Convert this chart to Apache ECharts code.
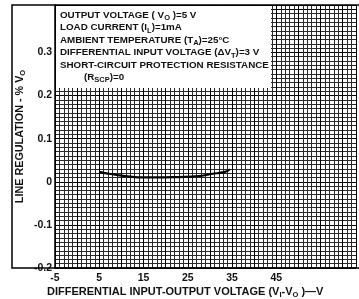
<!DOCTYPE html>
<html>
<head>
<meta charset="utf-8">
<script src="https://cdn.jsdelivr.net/npm/echarts@6/dist/echarts.min.js"></script>
<style>
  html, body { margin: 0; padding: 0; background: #fff; }
  #chart { width: 359px; height: 299px; }
</style>
</head>
<body>
<div id="chart"></div>
<script>
/* ===== data ===== */
const vDiff = [5, 7, 9.5, 12, 14.6, 18, 22.9, 27.4, 30.3, 33.4, 34.5];
const lineReg = [0.023, 0.019, 0.015, 0.012, 0.010, 0.010, 0.011, 0.013, 0.018, 0.023, 0.029];
const xTickLabels = [-5, 5, 15, 25, 35, 45];
const yTickLabels = [-0.2, -0.1, 0, 0.1, 0.2, 0.3];

const FONT = "Liberation Sans";
const chart = echarts.init(document.getElementById("chart"));

const sub = { fontSize: 7.5, fontFamily: FONT, fontWeight: "bold", padding: [6, 0, 0, 0], fill: "#111" };
const txt = (text, y, x) => ({
  type: "text",
  left: x || 60,
  top: y,
  z: 20,
  style: {
    text: text,
    font: "bold 9.8px " + FONT,
    fill: "#111",
    rich: { s: sub },
  },
});

chart.setOption({
  animation: false,
  grid: { left: 55, right: 0, top: 5, bottom: 31 },
  xAxis: {
    type: "value",
    min: -5,
    max: 63,
    interval: 5,
    axisLine: { show: true, onZero: false, lineStyle: { color: "#000", width: 1.5 } },
    axisTick: { show: false },
    axisLabel: {
      margin: 5,
      color: "#111",
      fontFamily: FONT,
      fontWeight: "bold",
      fontSize: 10.5,
      formatter: (v) => (xTickLabels.includes(v) ? String(v) : ""),
    },
    splitLine: { show: true, lineStyle: { color: "#000", width: 1 } },
    minorTick: { show: false, splitNumber: 5 },
    minorSplitLine: { show: true, lineStyle: { color: "#2a2a2a", width: 1 } },
  },
  yAxis: {
    type: "value",
    min: -0.2,
    max: 0.41,
    interval: 0.1,
    axisLine: { show: true, onZero: false, lineStyle: { color: "#000", width: 1.5 } },
    axisTick: { show: false },
    axisLabel: {
      margin: 3,
      color: "#111",
      fontFamily: FONT,
      fontWeight: "bold",
      fontSize: 10.5,
      formatter: (v) => {
        const r = Math.round(v * 10) / 10;
        return yTickLabels.includes(r) ? String(r) : "";
      },
    },
    splitLine: { show: true, lineStyle: { color: "#000", width: 1 } },
    minorTick: { show: false, splitNumber: 10 },
    minorSplitLine: { show: true, lineStyle: { color: "#2a2a2a", width: 1 } },
    name: "LINE REGULATION - % V{s|O}",
    nameLocation: "middle",
    nameGap: 28,
    nameMoveOverlap: false,
    nameRotate: 90,
    nameTextStyle: {
      color: "#111",
      fontFamily: FONT,
      fontWeight: "bold",
      fontSize: 10.8,
      rich: { s: sub },
    },
  },
  series: [
    {
      type: "line",
      data: vDiff.map((x, i) => [x, lineReg[i]]),
      smooth: true,
      showSymbol: false,
      lineStyle: { color: "#000", width: 2.2 },
      z: 10,
    },
  ],
  graphic: [
    /* outer frame */
    {
      type: "rect",
      shape: { x: 12, y: 5, width: 360, height: 263 },
      style: { fill: "none", stroke: "#000", lineWidth: 1.5 },
      z: 15,
    },
    /* white box behind the conditions */
    {
      type: "rect",
      shape: { x: 56, y: 6, width: 215, height: 82 },
      style: { fill: "#fff" },
      z: 12,
    },
    txt("OUTPUT VOLTAGE ( V{s|O} )=5 V", 10),
    txt("LOAD CURRENT (I{s|L})=1mA", 22.5),
    txt("AMBIENT TEMPERATURE (T{s|A})=25°C", 35),
    txt("DIFFERENTIAL INPUT VOLTAGE (ΔV{s|T})=3 V", 47.5),
    txt("SHORT-CIRCUIT PROTECTION RESISTANCE", 60),
    txt("(R{s|SCP})=0", 72, 84),
    {
      type: "text",
      left: 47,
      top: 286,
      style: {
        text: "DIFFERENTIAL INPUT-OUTPUT VOLTAGE (V{s|I}-V{s|O} )—V",
        font: "bold 11px " + FONT,
        fill: "#111",
        rich: { s: sub },
      },
    },
  ],
});
</script>
</body>
</html>
